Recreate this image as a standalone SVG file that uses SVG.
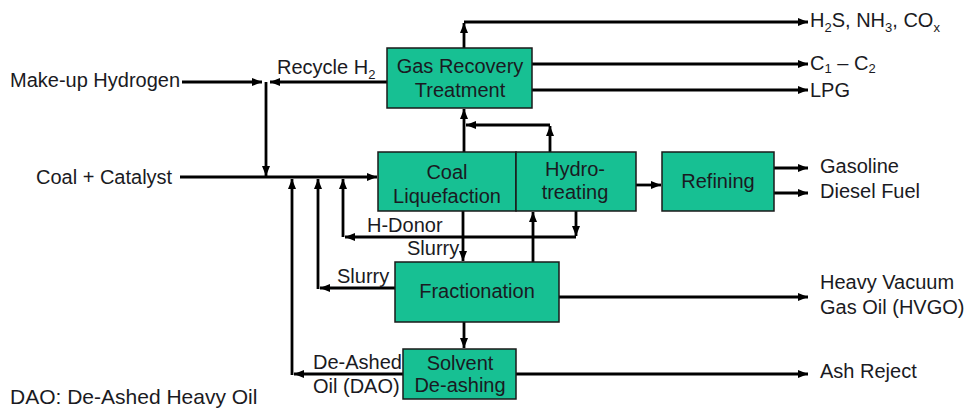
<svg xmlns="http://www.w3.org/2000/svg" width="965" height="408" viewBox="0 0 965 408">
<defs>
<marker id="ah" viewBox="0 0 10 8" refX="10" refY="4" markerWidth="10" markerHeight="8" markerUnits="userSpaceOnUse" orient="auto">
<path d="M0,0 L10,4 L0,8 z" fill="#000"/>
</marker>
</defs>
<style>
.box{fill:#17c093;stroke:#1a1a1a;stroke-width:1.5}
.t{font-family:"Liberation Sans",Arial,sans-serif;font-size:20px;fill:#1a1a22}
.c{text-anchor:middle}
.sub{font-size:13px}
.ln{fill:none;stroke:#000;stroke-width:2.8}
.a{marker-end:url(#ah)}
</style>
<rect width="965" height="408" fill="#fff"/>
<g id="connectors">
<path class="ln a" d="M182,82 H262"/>
<path class="ln a" d="M387,82 H270"/>
<path class="ln a" d="M266,82 V176"/>
<path class="ln a" d="M180,177 H377"/>
<path class="ln a" d="M464,48 V23"/>
<path class="ln a" d="M464,22 H808"/>
<path class="ln a" d="M532,64 H808"/>
<path class="ln a" d="M532,90 H808"/>
<path class="ln a" d="M464,152 V109"/>
<path class="ln a" d="M550,152 V126"/>
<path class="ln a" d="M550,125 H466"/>
<path class="ln a" d="M576,211 V236"/>
<path class="ln a" d="M576,237 H345"/>
<path class="ln a" d="M343,237 V179"/>
<path class="ln a" d="M318,289 V179"/>
<path class="ln a" d="M292,375 V179"/>
<path class="ln a" d="M395,288 H320"/>
<path class="ln a" d="M403,374 H294"/>
<path class="ln a" d="M463,211 V261"/>
<path class="ln a" d="M533,262 V212"/>
<path class="ln a" d="M636,185 H661"/>
<path class="ln a" d="M774,168 H808"/>
<path class="ln a" d="M774,193 H808"/>
<path class="ln a" d="M559,297 H808"/>
<path class="ln a" d="M464,322 V348"/>
<path class="ln a" d="M516,374 H808"/>
</g>
<g id="gas-recovery">
<rect class="box" x="387" y="48" width="145" height="60"/>
<text class="t c" x="460" y="73">Gas Recovery</text>
<text class="t c" x="460" y="97">Treatment</text>
</g>
<g id="coal-liquefaction">
<rect class="box" x="378" y="152" width="138" height="59"/>
<text class="t c" x="447" y="179">Coal</text>
<text class="t c" x="447" y="203">Liquefaction</text>
</g>
<g id="hydrotreating">
<rect class="box" x="516" y="152" width="120" height="59"/>
<text class="t c" x="575" y="176">Hydro-</text>
<text class="t c" x="575" y="199">treating</text>
</g>
<g id="refining">
<rect class="box" x="662" y="152" width="112" height="59"/>
<text class="t c" x="718" y="188">Refining</text>
</g>
<g id="fractionation">
<rect class="box" x="395" y="262" width="164" height="60"/>
<text class="t c" x="477" y="298">Fractionation</text>
</g>
<g id="solvent-deashing">
<rect class="box" x="403" y="349" width="113" height="50"/>
<text class="t c" x="460" y="370">Solvent</text>
<text class="t c" x="460" y="392">De-ashing</text>
</g>
<g id="labels">
<text class="t" x="10" y="87">Make-up Hydrogen</text>
<text class="t" x="277" y="74">Recycle H<tspan class="sub" dy="5">2</tspan></text>
<text class="t" x="36" y="184">Coal + Catalyst</text>
<text class="t" x="810" y="27">H<tspan class="sub" dy="5">2</tspan><tspan dy="-5">S, NH</tspan><tspan class="sub" dy="5">3</tspan><tspan dy="-5">, CO</tspan><tspan class="sub" dy="5">x</tspan></text>
<text class="t" x="810" y="70">C<tspan class="sub" dy="3">1</tspan><tspan dy="-3"> – C</tspan><tspan class="sub" dy="3">2</tspan></text>
<text class="t" x="810" y="97">LPG</text>
<text class="t" x="820" y="173">Gasoline</text>
<text class="t" x="820" y="198">Diesel Fuel</text>
<text class="t" x="367" y="232">H-Donor</text>
<text class="t" x="407" y="255">Slurry</text>
<text class="t" x="337" y="283">Slurry</text>
<text class="t" x="820" y="289">Heavy Vacuum</text>
<text class="t" x="820" y="314">Gas Oil (HVGO)</text>
<text class="t" x="313" y="369">De-Ashed</text>
<text class="t" x="313" y="393">Oil (DAO)</text>
<text class="t" x="820" y="378">Ash Reject</text>
<text class="t" x="10" y="404" style="font-size:21px">DAO: De-Ashed Heavy Oil</text>
</g>
</svg>
